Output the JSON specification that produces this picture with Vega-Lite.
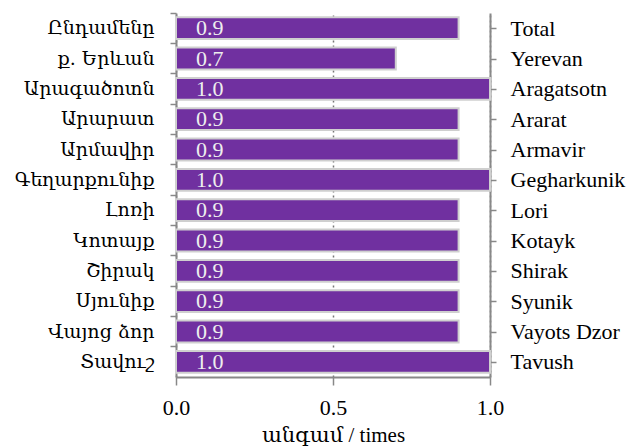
{
  "$schema": "https://vega.github.io/schema/vega-lite/v6.json",
  "autosize": {"type": "none"},
  "padding": {"left": 176, "top": 13, "right": 138, "bottom": 69},
  "width": 314,
  "height": 364,
  "background": "white",
  "config": {
    "view": {"stroke": null},
    "font": "Liberation Serif",
    "axis": {
      "labelFont": "Liberation Serif",
      "titleFont": "Liberation Serif",
      "labelFontSize": 22,
      "titleFontSize": 21,
      "titleFontWeight": "normal",
      "labelColor": "black",
      "titleColor": "black",
      "domainColor": "#888888",
      "domainWidth": 2,
      "tickColor": "#888888",
      "tickWidth": 1.5
    }
  },
  "data": {
    "values": [
      {"am": "Ընդամենը", "en": "Total", "v": 0.9},
      {"am": "ք. Երևան", "en": "Yerevan", "v": 0.7},
      {"am": "Արագածոտն", "en": "Aragatsotn", "v": 1.0},
      {"am": "Արարատ", "en": "Ararat", "v": 0.9},
      {"am": "Արմավիր", "en": "Armavir", "v": 0.9},
      {"am": "Գեղարքունիք", "en": "Gegharkunik", "v": 1.0},
      {"am": "Լոռի", "en": "Lori", "v": 0.9},
      {"am": "Կոտայք", "en": "Kotayk", "v": 0.9},
      {"am": "Շիրակ", "en": "Shirak", "v": 0.9},
      {"am": "Սյունիք", "en": "Syunik", "v": 0.9},
      {"am": "Վայոց ձոր", "en": "Vayots Dzor", "v": 0.9},
      {"am": "Տավուշ", "en": "Tavush", "v": 1.0}
    ]
  },
  "layer": [
    {
      "mark": {"type": "bar", "color": "#7030A0", "stroke": "#cfcfcf", "strokeWidth": 2, "height": {"band": 0.72}},
      "encoding": {
        "y": {
          "field": "am", "type": "nominal", "sort": null,
          "scale": {"paddingInner": 0, "paddingOuter": 0},
          "axis": {"title": null, "orient": "left", "bandPosition": 0, "tickSize": 6, "labelPadding": 16, "labelFont": "DejaVu Serif", "labelFontSize": 19, "labelBound": false}
        },
        "x": {
          "field": "v", "type": "quantitative",
          "scale": {"domain": [0, 1], "nice": false},
          "axis": {
            "title": "անգամ / times", "titleFont": "'Liberation Serif', 'DejaVu Serif'", "values": [0, 0.5, 1], "format": ".1f",
            "tickSize": 8, "labelPadding": 12, "titlePadding": 6, "labelFlush": false,
            "grid": true, "gridDash": [2, 3], "gridColor": "#777777", "gridWidth": 1.5
          }
        }
      }
    },
    {
      "mark": {"type": "text", "align": "left", "baseline": "middle", "dx": 20, "dy": 0, "fontSize": 22, "color": "#eeeeee", "font": "Liberation Serif"},
      "encoding": {
        "y": {
          "field": "en", "type": "nominal", "sort": null,
          "scale": {"paddingInner": 0, "paddingOuter": 0},
          "axis": {"title": null, "orient": "right", "bandPosition": 0, "tickSize": 6, "labelPadding": 14}
        },
        "x": {"datum": 0, "type": "quantitative"},
        "text": {"field": "v", "type": "quantitative", "format": ".1f"}
      }
    }
  ],
  "resolve": {"scale": {"y": "independent"}}
}
